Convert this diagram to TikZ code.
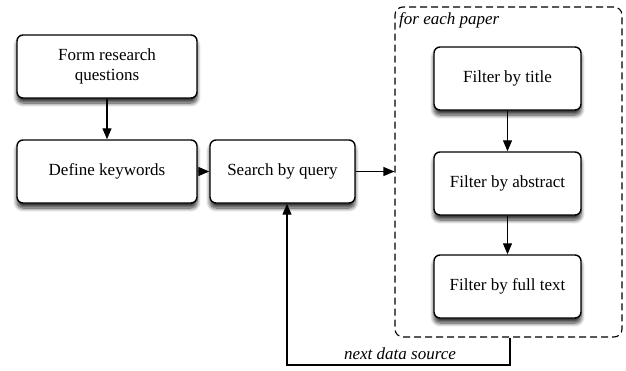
\documentclass[tikz,border=0pt]{standalone}
\usepackage{fontspec}
\setmainfont{Liberation Serif}[ItalicFont={Liberation Serif Italic},BoldFont={Liberation Serif Bold}]
\usetikzlibrary{arrows.meta,shadows.blur,positioning}
\begin{document}
\begin{tikzpicture}[x=1pt,y=-1pt,
  box/.style={draw=black,line width=1.4pt,rounded corners=6pt,fill=white,
    minimum width=#1,minimum height=63pt,align=center,inner sep=2pt,
    font=\fontsize{17}{20}\selectfont,
    blur shadow={shadow xshift=0pt,shadow yshift=-5pt,shadow blur steps=8,shadow blur radius=4pt,shadow opacity=80}},
  box/.default=180pt,
  arr/.style={line width=1.1pt,-{Triangle[length=11pt,width=9pt]}},
  lab/.style={font=\fontsize{17}{20}\selectfont\itshape}]
\useasboundingbox (0,0) rectangle (626,370);
\node[draw=black,line width=1.1pt,rounded corners=8pt,minimum width=227pt,minimum height=330pt,dash pattern=on 7pt off 4pt] (loop) at (508.5,172) {};
\node[lab,anchor=north west,inner sep=0pt] (fep) at (399,12) {for each paper};
\node[box] (form) at (107,66.5) {Form research\\questions};
\node[box] (def) at (107,171.5) {Define keywords};
\node[box=145pt] (search) at (282.5,171.5) {Search by query};
\node[box=147pt] (title) at (507.5,78.5) {Filter by title};
\node[box=147pt] (abs) at (507.5,183.5) {Filter by abstract};
\node[box=147pt] (full) at (507.5,286.5) {Filter by full text};
\draw[arr] (form) -- (def);
\draw[arr] (def) -- (search);
\draw[arr] (search.east) -- (search.east -| loop.west);
\draw[arr] (title) -- (abs);
\draw[arr] (abs) -- (full);
\coordinate (c1) at (510,365);
\coordinate (c2) at (287,365);
\draw[arr] (loop.south -| c1) -- (c1) -- (c2) -- (search.south -| c2);
\node[lab,anchor=south] (nds) at (400,363) {next data source};
\end{tikzpicture}
\end{document}
